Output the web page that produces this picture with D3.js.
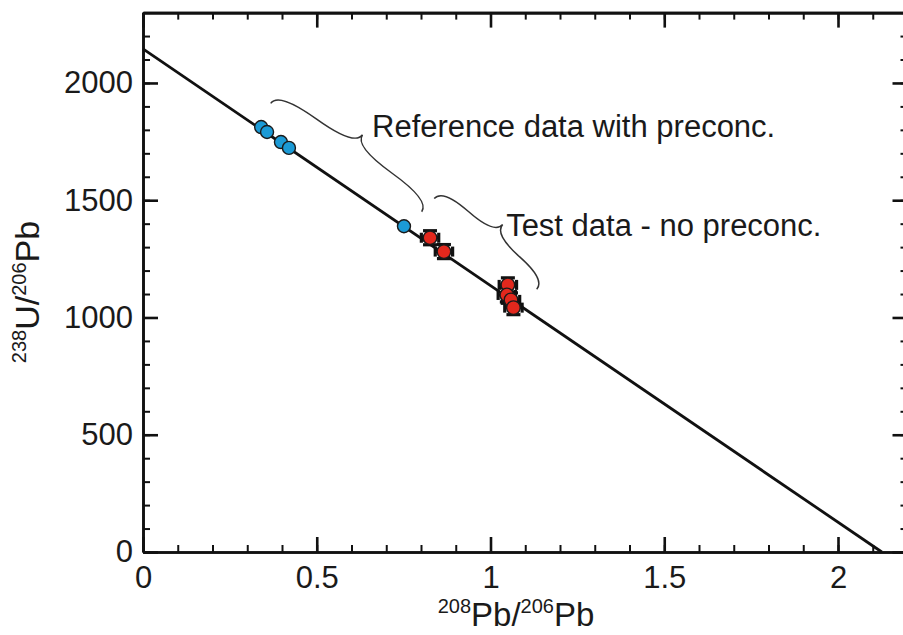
<!DOCTYPE html>
<html>
<head>
<meta charset="utf-8">
<script src="https://cdn.jsdelivr.net/npm/d3@7"></script>
<style>
  html, body { margin: 0; padding: 0; background: #fff; overflow: hidden; }
  svg { display: block; }
  svg text { font-family: "Liberation Sans", Arial, sans-serif; fill: #1a1a1a; }
</style>
</head>
<body>
<svg id="chart" width="903" height="635"></svg>
<script>
'use strict';

// reference samples (with preconcentration)
var refX = [0.340, 0.357, 0.397, 0.420, 0.751];
var refY = [1812, 1791, 1748, 1723, 1389];

// test samples (no preconcentration), with error bars
var testX = [0.826, 0.866, 1.050, 1.047, 1.059, 1.066];
var testY = [1340, 1281, 1139, 1096, 1075, 1042];
var testXErr = [0.025, 0.025, 0.025, 0.025, 0.025, 0.025];
var testYErr = [30, 30, 30, 30, 30, 30];

// fitted line, from y-intercept to x-intercept
var lineX = [0, 2.126];
var lineY = [2145, 0];

var xTicks = [0, 0.5, 1, 1.5, 2];
var yTicks = [0, 500, 1000, 1500, 2000];

var labels = ['Reference data with preconc.', 'Test data - no preconc.'];
var labelX = [0.659, 1.045];
var labelY = [1770, 1347];

// curly braces, start/end in data units
var braceFrom = [[0.3675, 1913], [0.838, 1507]];
var braceTo = [[0.802, 1451], [1.133, 1120]];

var svg = d3.select('#chart');

var x = d3.scaleLinear().domain([0, 2.2]).range([143, 907.5]);
var y = d3.scaleLinear().domain([0, 2300]).range([552, 12.6]);

var minorX = d3.range(0, 23).map(function(i) { return i / 10; });
var minorY = d3.range(0, 24).map(function(i) { return i * 100; });

function styleAxis(g, w) {
  g.select('.domain').attr('stroke', '#111').attr('stroke-width', 2.6);
  g.selectAll('.tick line').attr('stroke', '#111').attr('stroke-width', w);
  g.selectAll('.tick text').attr('font-size', 31).attr('fill', '#1a1a1a')
    .style('font-family', '"Liberation Sans", Arial, sans-serif');
}

// minor ticks on all four sides
[[d3.axisBottom(x), y(0)], [d3.axisTop(x), y(2300)]].forEach(function(a) {
  svg.append('g').attr('transform', 'translate(0,' + a[1] + ')')
    .call(a[0].tickValues(minorX).tickSize(-7).tickSizeOuter(0).tickFormat(''))
    .call(styleAxis, 2);
});
[[d3.axisLeft(y), x(0)], [d3.axisRight(y), x(2.2)]].forEach(function(a) {
  svg.append('g').attr('transform', 'translate(' + a[1] + ',0)')
    .call(a[0].tickValues(minorY).tickSize(-7).tickSizeOuter(0).tickFormat(''))
    .call(styleAxis, 2);
});

// major ticks
svg.append('g').attr('transform', 'translate(0,' + y(0) + ')')
  .call(d3.axisBottom(x).tickValues(xTicks).tickSize(-15).tickSizeOuter(0).tickPadding(14).tickFormat(d3.format('')))
  .call(styleAxis, 2.6);
svg.append('g').attr('transform', 'translate(0,' + y(2300) + ')')
  .call(d3.axisTop(x).tickValues(xTicks).tickSize(-15).tickSizeOuter(0).tickFormat(''))
  .call(styleAxis, 2.6);
svg.append('g').attr('transform', 'translate(' + x(0) + ',0)')
  .call(d3.axisLeft(y).tickValues(yTicks).tickSize(-15).tickSizeOuter(0).tickPadding(10).tickFormat(d3.format('')))
  .call(styleAxis, 2.6);
svg.append('g').attr('transform', 'translate(' + x(2.2) + ',0)')
  .call(d3.axisRight(y).tickValues(yTicks).tickSize(-15).tickSizeOuter(0).tickFormat(''))
  .call(styleAxis, 2.6);

// axis titles
var xt = svg.append('text').attr('x', 516).attr('y', 626).attr('text-anchor', 'middle').attr('font-size', 33);
xt.append('tspan').attr('font-size', 20).attr('dy', -13).text('208');
xt.append('tspan').attr('dy', 13).text('Pb/');
xt.append('tspan').attr('font-size', 20).attr('dy', -13).text('206');
xt.append('tspan').attr('dy', 13).text('Pb');

var yt = svg.append('text').attr('transform', 'translate(39,292) rotate(-90)')
  .attr('text-anchor', 'middle').attr('font-size', 34);
yt.append('tspan').attr('font-size', 20).attr('dy', -13).text('238');
yt.append('tspan').attr('dy', 13).text('U/');
yt.append('tspan').attr('font-size', 20).attr('dy', -13).text('206');
yt.append('tspan').attr('dy', 13).text('Pb');

// fit line
var linePts = lineX.map(function(v, i) { return [v, lineY[i]]; });
svg.append('path')
  .attr('d', d3.line().x(function(d) { return x(d[0]); }).y(function(d) { return y(d[1]); })(linePts))
  .attr('fill', 'none').attr('stroke', '#111').attr('stroke-width', 2.8);

// braces
function bracePath(p1, p2, w, q) {
  var dx = p2[0] - p1[0], dy = p2[1] - p1[1];
  var len = Math.sqrt(dx * dx + dy * dy);
  var ux = dx / len, uy = dy / len;
  var nx = uy, ny = -ux;
  function pt(t, off) { return [p1[0] + t * len * ux + off * nx, p1[1] + t * len * uy + off * ny]; }
  var c1 = pt(0, q * w), m1 = pt(0.25, (1 - q) * w), tip = pt(0.5, w);
  var c2 = pt(1, q * w), m2 = pt(0.75, (1 - q) * w);
  return 'M' + p1 + 'Q' + c1 + ' ' + m1 + 'T' + tip + 'M' + p2 + 'Q' + c2 + ' ' + m2 + 'T' + tip;
}
var braceW = [28, 26];
braceFrom.forEach(function(p, i) {
  var a = [x(p[0]), y(p[1])], b = [x(braceTo[i][0]), y(braceTo[i][1])];
  svg.append('path').attr('d', bracePath(a, b, braceW[i], 0.5))
    .attr('fill', 'none').attr('stroke', '#333').attr('stroke-width', 1.5);
});

// labels
labels.forEach(function(t, i) {
  svg.append('text').attr('x', x(labelX[i])).attr('y', y(labelY[i]))
    .attr('font-size', 31).text(t);
});

// error bars for test data
var test = testX.map(function(v, i) {
  return { x: v, y: testY[i], ex: testXErr[i], ey: testYErr[i] };
});
var eb = svg.append('g').attr('stroke', '#111').attr('stroke-width', 3.2);
test.forEach(function(d) {
  var cx = x(d.x), cy = y(d.y);
  var y0 = y(d.y - d.ey), y1 = y(d.y + d.ey);
  var x0 = x(d.x - d.ex), x1 = x(d.x + d.ex);
  eb.append('line').attr('x1', cx).attr('x2', cx).attr('y1', y0).attr('y2', y1);
  eb.append('line').attr('x1', cx - 7).attr('x2', cx + 7).attr('y1', y0).attr('y2', y0);
  eb.append('line').attr('x1', cx - 7).attr('x2', cx + 7).attr('y1', y1).attr('y2', y1);
  eb.append('line').attr('x1', x0).attr('x2', x1).attr('y1', cy).attr('y2', cy);
  eb.append('line').attr('x1', x0).attr('x2', x0).attr('y1', cy - 5).attr('y2', cy + 5);
  eb.append('line').attr('x1', x1).attr('x2', x1).attr('y1', cy - 5).attr('y2', cy + 5);
});

// points
svg.append('g').selectAll('circle').data(test).enter().append('circle')
  .attr('cx', function(d) { return x(d.x); })
  .attr('cy', function(d) { return y(d.y); })
  .attr('r', 6.8).attr('fill', '#e2281d').attr('stroke', '#1a1a1a').attr('stroke-width', 1.4);

svg.append('g').selectAll('circle').data(refX).enter().append('circle')
  .attr('cx', function(d) { return x(d); })
  .attr('cy', function(d, i) { return y(refY[i]); })
  .attr('r', 6.5).attr('fill', '#1b9ad6').attr('stroke', '#1a1a1a').attr('stroke-width', 1.4);
</script>
</body>
</html>
